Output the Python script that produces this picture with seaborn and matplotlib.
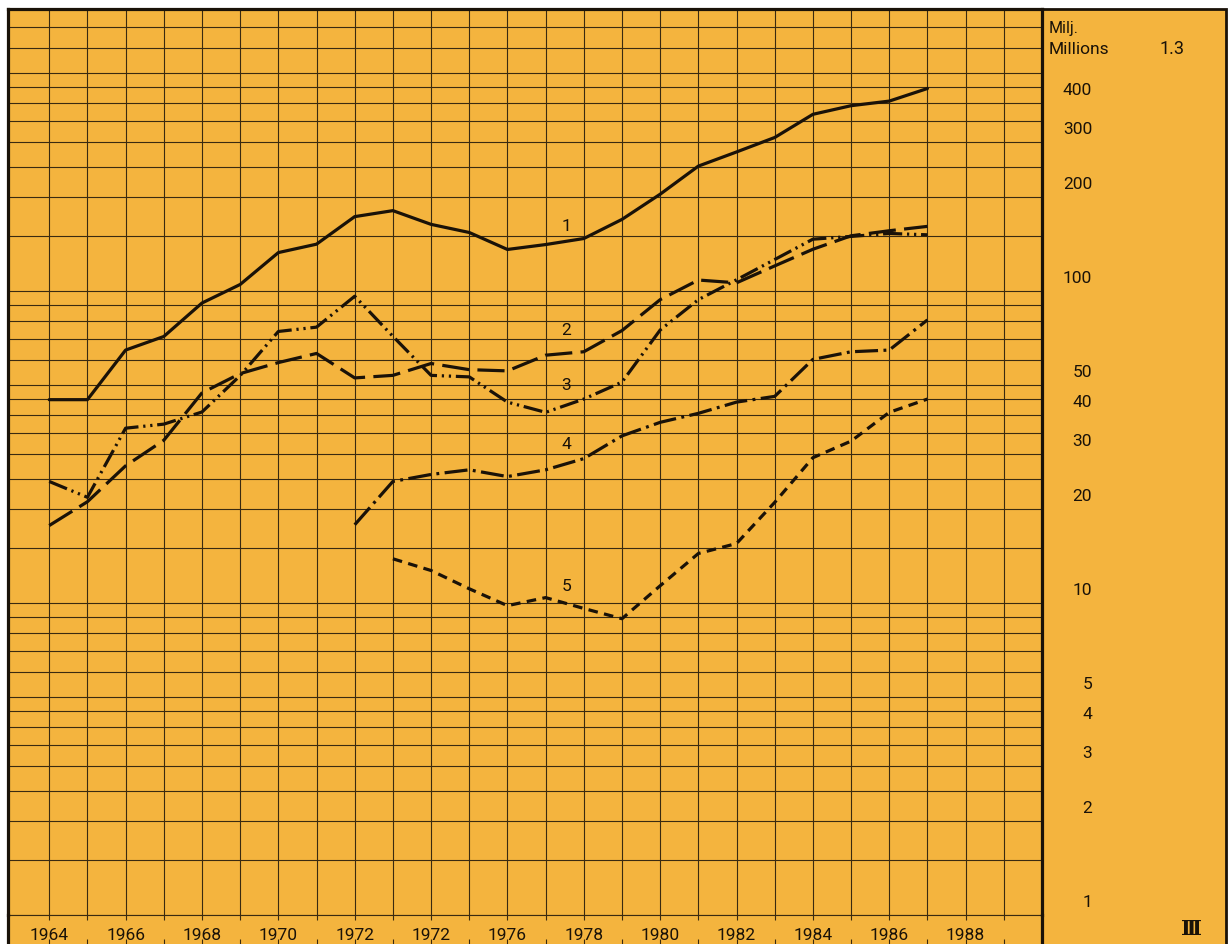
import matplotlib
matplotlib.use("Agg")
import matplotlib.pyplot as plt
import seaborn as sns
import pandas as pd
from matplotlib.patches import Rectangle
from matplotlib.ticker import FixedLocator, NullFormatter

# ---------------- data ----------------
years = list(range(1964, 1988))
series1 = [44.8, 44.8, 64.6, 71.4, 91.4, 104.8, 132.6, 141.1, 172.9, 180.7, 163.3, 153.8,
           135.7, 140.7, 147.1, 169.4, 204.0, 251.0, 278.6, 310.0, 367.8, 392.0, 405.5, 445.0]
series2 = [17.7, 21.1, 27.5, 33.2, 47.1, 54.3, 58.9, 63.0, 52.6, 53.6, 58.5, 55.9,
           55.4, 62.2, 63.8, 74.6, 93.7, 108.3, 106.1, 120.2, 135.9, 150.1, 155.8, 160.9]
series3 = [24.5, 21.8, 36.3, 37.4, 40.9, 53.5, 74.1, 76.5, 96.1, 71.5, 53.6, 53.0,
           44.0, 40.8, 45.0, 51.0, 74.9, 93.7, 108.5, 126.0, 146.4, 149.4, 152.7, 151.2]
years4 = list(range(1972, 1988))
series4 = [17.8, 24.5, 25.8, 26.7, 25.4, 26.7, 29.0, 34.3, 37.9, 40.5, 44.0, 45.9,
           60.3, 63.8, 64.6, 80.7]
years5 = list(range(1973, 1988))
series5 = [13.85, 12.7, 11.1, 9.8, 10.4, 9.6, 8.9, 11.35, 14.4, 15.5, 21.0, 29.2,
           33.0, 40.8, 45.0]

series_names = ["1", "2", "3", "4", "5"]
label_year = 1977.55
label_values = [160.8, 74.9, 49.8, 32.1, 11.3]

xtick_years = list(range(1964, 1989, 2))
xtick_labels = ["1964", "1966", "1968", "1970", "1972", "1972", "1976",
                "1978", "1980", "1982", "1984", "1986", "1988"]
ylabel_values = [400, 300, 200, 100, 50, 40, 30, 20, 10, 5, 4, 3, 2, 1]
ygrid_values = [1, 1.5, 2, 2.5, 3, 3.5, 4, 4.5, 5, 6, 7, 8, 9, 10, 15, 20, 25, 30, 35,
                40, 45, 50, 60, 70, 80, 90, 100, 150, 200, 250, 300, 350, 400, 450,
                500, 600, 700, 800]

frames = [
    pd.DataFrame({"year": years, "value": series1, "series": "1"}),
    pd.DataFrame({"year": years, "value": series2, "series": "2"}),
    pd.DataFrame({"year": years, "value": series3, "series": "3"}),
    pd.DataFrame({"year": years4, "value": series4, "series": "4"}),
    pd.DataFrame({"year": years5, "value": series5, "series": "5"}),
]
df = pd.concat(frames, ignore_index=True)

# ---------------- style ----------------
sns.set_style("ticks")
plt.rcParams["font.family"] = ["Roboto", "DejaVu Sans"]

ORANGE = "#F4B43E"
INK = "#1a1208"
GRID = "#3a2a10"
W, H = 1228, 944


def fx(px):
    return px / W


def fy(py):
    return 1 - py / H


fig = plt.figure(figsize=(W / 100, H / 100), dpi=100)
fig.patch.set_facecolor("white")

bg = Rectangle((fx(8), -0.01), fx(1226) - fx(8), fy(9) + 0.01,
               transform=fig.transFigure, facecolor=ORANGE, edgecolor=INK,
               lw=2.0, zorder=-10)
fig.patches.append(bg)

XMIN, XMAX = 1962.92, 1990.0
AX_BOTTOM_PX = 915

ax = fig.add_axes([fx(8), fy(AX_BOTTOM_PX), fx(1042) - fx(8), fy(9) - fy(AX_BOTTOM_PX)])
ax.set_facecolor("none")
ax.set_yscale("log")

dash_map = {
    "1": "",
    "2": (8.5, 2.6),
    "3": (6.0, 1.5, 0.7, 1.5, 0.7, 1.5),
    "4": (7.2, 1.7, 0.9, 1.7),
    "5": (3.0, 2.0),
}
sns.lineplot(data=df, x="year", y="value", style="series", style_order=series_names,
             dashes=dash_map, color=INK, lw=2.3, estimator=None, legend=False,
             ax=ax, zorder=5)

ax.set_xlim(XMIN, XMAX)
ax.set_ylim(1, 800)

# grid
ax.set_xticks(list(range(1964, 1990)), minor=True)
ax.set_xticks(xtick_years)
ax.set_xticklabels(xtick_labels, fontsize=12.5, color=INK)
ax.yaxis.set_major_locator(FixedLocator(ygrid_values))
ax.yaxis.set_minor_locator(FixedLocator([]))
ax.yaxis.set_major_formatter(NullFormatter())
ax.yaxis.set_minor_formatter(NullFormatter())
ax.grid(True, which="both", axis="x", color=GRID, lw=0.8)
ax.grid(True, which="major", axis="y", color=GRID, lw=0.8)
ax.tick_params(axis="both", which="both", length=0)
ax.tick_params(axis="x", which="major", pad=9)
ax.set_xlabel("")
ax.set_ylabel("")

for side in ["left", "top", "right"]:
    ax.spines[side].set_linewidth(2.3)
    ax.spines[side].set_color(INK)
ax.spines["bottom"].set_linewidth(0.8)
ax.spines["bottom"].set_color(GRID)

# right-hand scale labels
for v in ylabel_values:
    ax.annotate(f"{v}", xy=(1.0, v), xycoords=("axes fraction", "data"),
                xytext=(36, 9), textcoords="offset points", ha="right", va="center",
                fontsize=12.5, color=INK, annotation_clip=False)

# curve labels
for name, v in zip(series_names, label_values):
    ax.text(label_year, v, name, ha="center", va="center", fontsize=12.5, color=INK)

# bottom strip with tick marks
strip = fig.add_axes([fx(8), 0, fx(1042) - fx(8), fy(AX_BOTTOM_PX)])
strip.set_facecolor("none")
strip.set_xlim(XMIN, XMAX)
strip.set_ylim(0, 1)
strip.set_yticks([])
strip.set_xticks(list(range(1964, 1990)))
strip.tick_params(axis="x", which="major", direction="in", length=3.6, width=0.8,
                  color=GRID, top=True, bottom=True, labelbottom=False, labeltop=False)
for side in ["left", "right"]:
    strip.spines[side].set_linewidth(2.3)
    strip.spines[side].set_color(INK)
strip.spines["top"].set_visible(False)
strip.spines["bottom"].set_visible(False)

# panel texts
fig.text(fx(1049), fy(29), "Milj.", ha="left", va="center", fontsize=11.5, color=INK)
fig.text(fx(1049), fy(49), "Millions", ha="left", va="center", fontsize=12.5, color=INK)
fig.text(fx(1172), fy(49), "1.3", ha="center", va="center", fontsize=13, color=INK)
fig.text(fx(1192), fy(929), "\u2162", ha="center", va="center", fontsize=15,
         family=["DejaVu Serif"], weight="bold", color=INK)

fig.savefig("out.png", dpi=100, facecolor=fig.get_facecolor())
